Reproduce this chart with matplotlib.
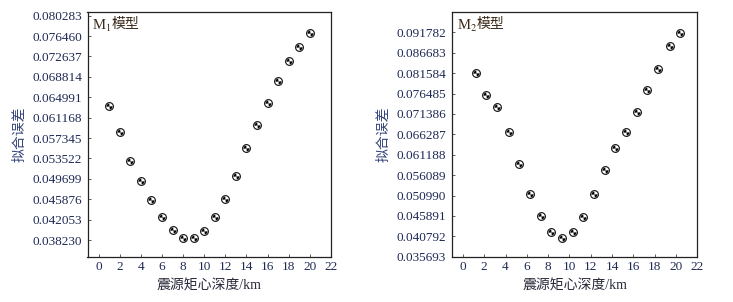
import numpy as np
import matplotlib
matplotlib.use("Agg")
import matplotlib.pyplot as plt
from matplotlib.path import Path
from matplotlib.markers import MarkerStyle
from matplotlib.transforms import offset_copy

plt.rcParams['font.family'] = ['Liberation Serif', 'Noto Sans CJK SC']
plt.rcParams['mathtext.fontset'] = 'stix'

# ---- data ----
depth_m1 = [1, 2, 3, 4, 5, 6, 7, 8, 9, 10, 11, 12, 13, 14, 15, 16, 17, 18, 19, 20]
err_m1 = [0.06335, 0.05854, 0.05304, 0.04935, 0.04578, 0.04248, 0.04004, 0.03866,
          0.03866, 0.03985, 0.04248, 0.04597, 0.05029, 0.05541, 0.05978, 0.06397,
          0.06810, 0.07178, 0.07435, 0.07703]
depth_m2 = [1.2, 2.2, 3.2, 4.3, 5.3, 6.3, 7.3, 8.3, 9.3, 10.3, 11.3, 12.3, 13.3,
            14.3, 15.3, 16.3, 17.3, 18.3, 19.4, 20.4]
err_m2 = [0.08168, 0.07603, 0.07318, 0.06693, 0.05878, 0.05144, 0.04578, 0.04186,
          0.04036, 0.04178, 0.04569, 0.05136, 0.05736, 0.06278, 0.06693, 0.07193,
          0.07728, 0.08261, 0.08843, 0.09161]
yticks_m1 = [0.038230, 0.042053, 0.045876, 0.049699, 0.053522, 0.057345, 0.061168,
             0.064991, 0.068814, 0.072637, 0.076460, 0.080283]
yticks_m2 = [0.035693, 0.040792, 0.045891, 0.050990, 0.056089, 0.061188, 0.066287,
             0.071386, 0.076485, 0.081584, 0.086683, 0.091782]
xticks = [0, 2, 4, 6, 8, 10, 12, 14, 16, 18, 20, 22]
model_names = ['M$_1$', 'M$_2$']
model_suffix = '模型'
xlabel = '震源矩心深度/km'
ylabel = '拟合误差'

W, H = 733, 302
fig = plt.figure(figsize=(W / 100, H / 100), dpi=100)

def ax_rect(x0, x1, y0, y1):
    return [x0 / W, 1 - y1 / H, (x1 - x0) / W, (y1 - y0) / H]

ax1 = fig.add_axes(ax_rect(87.5, 331, 11.7, 257.3))
ax2 = fig.add_axes(ax_rect(451.7, 697.3, 11.7, 257.3))

# beach-ball marker: two black quadrants
w1 = Path.wedge(95, 185)
w2 = Path.wedge(275, 365)
wedges = Path.make_compound_path(w1, w2)
ball = MarkerStyle(wedges)

tick_color = '#1f2a55'
lab_color = '#34427a'

def draw(ax, x, y, yt, ylim, name):
    ax.plot(x, y, linestyle='none', marker='o', markersize=5.6,
            markerfacecolor='white', markeredgecolor='#111111', markeredgewidth=0.8, zorder=3)
    ax.plot(x, y, linestyle='none', marker=ball, markersize=4.4,
            markerfacecolor='black', markeredgecolor='black', markeredgewidth=0.0, zorder=4)
    ax.set_xlim(-1.05, 22)
    ax.set_ylim(*ylim)
    ax.set_xticks(xticks)
    ax.set_yticks(yt)
    ax.set_yticklabels(['%.6f' % v for v in yt])
    ax.tick_params(axis='both', direction='in', length=2, width=0.6,
                   labelsize=9.5, colors='#444444', labelcolor=tick_color)
    ax.tick_params(axis='y', pad=4)
    ax.tick_params(axis='x', pad=3)
    for s in ax.spines.values():
        s.set_linewidth(0.9)
        s.set_color('#222222')
    ax.set_xlabel(xlabel, fontsize=10, color='#2a2a3a', labelpad=4)
    ax.set_ylabel(ylabel, fontsize=10, color=lab_color, labelpad=4)
    t = ax.text(0.02, 0.975, name, transform=ax.transAxes, ha='left', va='top',
                fontsize=10.5, color='#3a2a1a')
    fig.canvas.draw()
    bb = t.get_window_extent()
    tr = offset_copy(ax.transAxes, fig=fig, x=bb.width * 72 / fig.dpi - 0.3, y=0, units='points')
    ax.text(0.02, 0.975, model_suffix, transform=tr, ha='left', va='top',
            fontsize=10, color='#3a2a1a')

draw(ax1, depth_m1, err_m1, yticks_m1, (0.03499, 0.081027), model_names[0])
draw(ax2, depth_m2, err_m2, yticks_m2, (0.03555, 0.09693), model_names[1])

fig.savefig('out.png', dpi=100)
